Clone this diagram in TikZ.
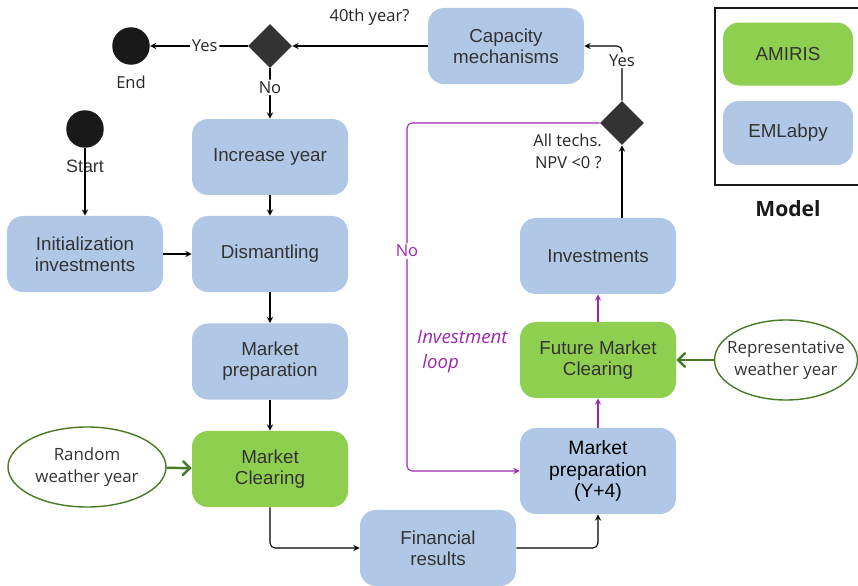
\documentclass[tikz,border=0pt]{standalone}
\usepackage{fontspec}
\setmainfont{Liberation Sans}
\newfontfamily\labelfont{Open Sans}
\usetikzlibrary{shapes.geometric, arrows}
\definecolor{emblue}{RGB}{176,200,230}
\definecolor{amgreen}{RGB}{143,207,80}
\definecolor{decgray}{RGB}{51,51,51}
\definecolor{loopviolet}{RGB}{156,40,176}
\definecolor{wxgreen}{RGB}{72,122,38}
\tikzstyle{emlab} = [rectangle, rounded corners=0.32cm, minimum width=3.12cm, minimum height=1.52cm, text centered, align=center, fill=emblue, text=black!80, font=\fontsize{10.7}{11.8}\selectfont]
\tikzstyle{amiris} = [emlab, fill=amgreen]
\tikzstyle{decision} = [diamond, minimum width=0.88cm, minimum height=0.88cm, inner sep=0pt, fill=decgray]
\tikzstyle{terminal} = [circle, minimum size=0.75cm, inner sep=0pt, fill=black!90]
\tikzstyle{weather} = [ellipse, draw=wxgreen, thick, minimum height=1.6cm, inner sep=0pt, align=center, text=black!80, font=\labelfont\fontsize{9.6}{12.4}\selectfont]
\tikzstyle{lbl} = [text=black!85, font=\labelfont\fontsize{9.4}{12.4}\selectfont]
\tikzstyle{arrow} = [->,>=stealth, line width=0.6pt, rounded corners=0.1cm]
\tikzstyle{looparrow} = [arrow, draw=loopviolet]
\tikzstyle{wxarrow} = [->,>=angle 90, line width=1.4pt, draw=wxgreen]

\begin{document}
\begin{tikzpicture}[node distance=2.15cm]
\useasboundingbox (0,0) rectangle (17.16,-11.72);

% current year loop
\node (incyear) [emlab] at (5.40,-3.14) {Increase year};
\node (dism) [emlab, below of=incyear, yshift=0.21cm] {Dismantling};
\node (mprep) [emlab, below of=dism] {Market\\preparation};
\node (mclear) [amiris, below of=mprep] {Market\\Clearing};
\node (init) [emlab, left of=dism, xshift=-1.55cm] {Initialization\\investments};
\node (start) [terminal, above of=init, yshift=0.35cm] {};
\node (startlbl) [below of=start, yshift=1.41cm, text=black!80, font=\fontsize{10.2}{12}\selectfont] {Start};
\node (decT) [decision, above of=incyear, yshift=0.07cm] {};
\node (endpt) [terminal, left of=decT, xshift=-0.63cm] {};
\node (endlbl) [lbl, below of=endpt, yshift=1.43cm] {End};
\node (randwx) [weather, minimum width=3.16cm, left of=mclear, xshift=-1.51cm, yshift=0.04cm] {Random\\weather year};
\node (finres) [emlab, below of=mclear, xshift=3.36cm, yshift=0.57cm] {Financial\\results};

% investment loop
\node (mpfut) [emlab, minimum height=1.72cm, text=black, font=\fontsize{11}{12.2}\selectfont, right of=mclear, xshift=4.41cm, yshift=-0.04cm] {Market\\preparation\\(Y+4)};
\node (fmc) [amiris, above of=mpfut, yshift=0.07cm] {Future Market\\Clearing};
\node (invest) [emlab, above of=fmc, yshift=-0.07cm] {Investments};
\node (decR) [decision, above of=invest, xshift=0.48cm, yshift=0.51cm] {};
\node (npvlbl) [lbl, align=right, anchor=east] at (12.16,-3.02) {All techs.\\NPV <0 ?};
\node (cap) [emlab, right of=decT, xshift=2.57cm] {Capacity\\mechanisms};
\node (reprwx) [weather, minimum width=2.86cm, inner xsep=-0.17cm, right of=fmc, xshift=1.61cm] {Representative\\weather year};
\node (looplbl) [anchor=west, align=left, text=loopviolet, font=\labelfont\itshape\fontsize{10.6}{14.6}\selectfont] at (8.22,-7.03) {Investment\\\hspace{3pt}loop};
\coordinate (loopcorner) at (8.14,-9.42);

% legend
\draw [line width=1.6pt, draw=black!90] (14.30,-0.16) rectangle (17.40,-3.70);
\node (amkey) [amiris, minimum width=2.6cm, minimum height=1.26cm] at (15.76,-1.08) {AMIRIS};
\node (emkey) [emlab, minimum width=2.6cm, minimum height=1.28cm, below of=amkey, yshift=0.57cm] {EMLabpy};
\node (modellbl) [text=black!90, font=\labelfont\bfseries\fontsize{12}{14}\selectfont, below of=emkey, yshift=0.63cm] {Model};

\draw [arrow] (start) -- (init);
\draw [arrow] (init) -- (dism);
\draw [arrow] (incyear) -- (dism);
\draw [arrow] (dism) -- (mprep);
\draw [arrow] (mprep) -- (mclear);
\draw [arrow] (mclear.south) |- (finres.west);
\draw [arrow] (finres.east) -| (mpfut.south);
\draw [looparrow] (mpfut) -- (fmc);
\draw [looparrow] (fmc) -- (invest);
\draw [arrow] (decR |- invest.north) -- (decR.south);
\draw [arrow] (decR.north) |- node[lbl, pos=0.37, fill=white, inner sep=1pt] {Yes} (cap.east);
\draw [looparrow] (decR.west) -| node[lbl, text=loopviolet, pos=0.684, fill=white, inner sep=1pt] {No} (loopcorner) -- (mpfut.west);
\draw [arrow] (cap.west) -- node[lbl, above=0.28cm, pos=0.43] {40th year?} (decT.east);
\draw [arrow] (decT.west) -- node[lbl, pos=0.44, fill=white, inner sep=1pt] {Yes} (endpt);
\draw [arrow] (decT.south) -- node[lbl, pos=0.38, fill=white, inner sep=1pt] {No} (incyear);
\draw [wxarrow] (randwx) -- (mclear);
\draw [wxarrow] (reprwx) -- (fmc);

\end{tikzpicture}
\end{document}
